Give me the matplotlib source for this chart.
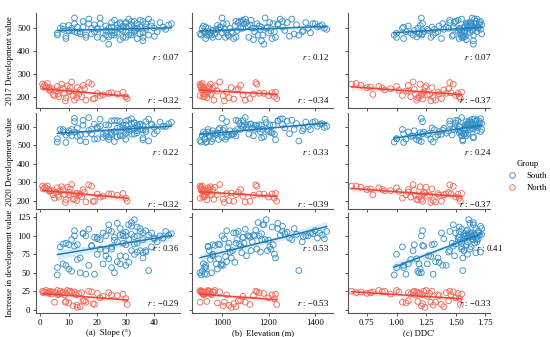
import numpy as np
import matplotlib
matplotlib.use('Agg')
import matplotlib.pyplot as plt
from matplotlib.lines import Line2D

plt.rcParams['font.family'] = ['Liberation Serif', 'DejaVu Serif']
plt.rcParams['mathtext.fontset'] = 'custom'
plt.rcParams['mathtext.it'] = 'Liberation Serif:italic'
plt.rcParams['mathtext.rm'] = 'Liberation Serif'

# ---- South group (one entry per unit) ----
s_slope = [6, 6, 7, 8, 9, 10, 10, 11, 12, 12, 13, 13, 14, 15, 16, 17, 18, 18, 19, 20,
           20, 21, 22, 22, 23, 23, 24, 24, 25, 25, 25, 26, 26, 27, 27, 28, 28, 29, 29, 30,
           30, 30, 31, 31, 32, 32, 33, 33, 33, 34, 34, 35, 35, 36, 36, 37, 37, 38, 38, 39,
           40, 40, 42, 43, 44, 45, 46, 9, 11, 14, 16, 19, 21, 24, 26, 28, 29, 31, 32, 33,
           34, 35, 36, 37, 30, 27, 23, 17, 15, 12, 8, 41, 39, 28, 25, 32, 20, 36, 34, 30]
s_elev = [910, 925, 940, 920, 930, 960, 980, 915, 1000, 1020, 950, 990, 1040, 1060, 935, 1100, 1080, 970, 1120, 1010,
          960, 1150, 1050, 1000, 1160, 945, 1180, 985, 1070, 1210, 930, 1090, 955, 1130, 1020, 1240, 975, 1110, 1060, 1280,
          1140, 995, 1300, 1175, 1045, 1320, 1190, 1075, 1350, 1215, 1095, 1260, 1125, 1380, 1230, 1400, 1165, 1330, 1250, 1420,
          1440, 1290, 1360, 1410, 1450, 1430, 1390, 1030, 1065, 905, 1115, 925, 1185, 1145, 1200, 1105, 1270, 1055, 1155, 1225,
          1035, 1310, 1085, 1195, 1015, 1240, 960, 1005, 1170, 940, 985, 1345, 1205, 1135, 1025, 1260, 1090, 1170, 1370, 1220]
s_ddc = [0.98, 1.00, 1.05, 1.10, 1.06, 1.15, 1.20, 1.18, 1.21, 1.22, 1.12, 1.30, 1.35, 1.50, 1.31, 1.55, 1.48, 1.22, 1.60, 1.40,
         1.00, 1.62, 1.38, 1.19, 1.58, 1.14, 1.65, 1.17, 1.45, 1.55, 1.06, 1.52, 1.21, 1.60, 1.33, 1.67, 1.26, 1.63, 1.55, 1.70,
         1.58, 1.42, 1.68, 1.48, 1.57, 1.72, 1.61, 1.50, 1.64, 1.53, 1.66, 1.69, 1.45, 1.62, 1.56, 1.59, 1.71, 1.56, 1.66, 1.64,
         1.69, 1.58, 1.61, 1.67, 1.53, 1.70, 1.63, 1.47, 1.52, 1.19, 1.57, 1.08, 1.64, 1.60, 1.54, 1.49, 1.58, 1.36, 1.65, 1.60,
         1.44, 1.72, 1.67, 1.57, 1.29, 1.62, 1.27, 1.39, 1.61, 1.23, 1.32, 1.68, 1.63, 1.59, 1.55, 1.71, 1.53, 1.65, 1.66, 1.59]
s_v2017 = [470, 478, 500, 510, 455, 490, 512, 500, 545, 520, 480, 505, 485, 530, 470, 540, 500, 475, 515, 495,
           460, 520, 455, 480, 510, 470, 430, 462, 525, 488, 505, 535, 470, 500, 480, 520, 495, 510, 460, 525,
           485, 505, 540, 470, 480, 515, 500, 530, 490, 455, 520, 505, 535, 480, 460, 520, 495, 470, 540, 510,
           500, 465, 525, 505, 495, 515, 520, 465, 490, 475, 460, 485, 545, 500, 480, 525, 490, 510, 470, 485,
           500, 475, 530, 505, 460, 515, 490, 520, 505, 485, 495, 485, 525, 450, 470, 530, 500, 445, 500, 520]
s_v2020 = [517, 535, 585, 572, 515, 578, 567, 552, 645, 627, 548, 593, 555, 634, 518, 649, 586, 562, 613, 591,
           535, 602, 559, 542, 610, 550, 545, 531, 631, 570, 562, 633, 520, 592, 545, 630, 557, 610, 550, 630,
           585, 565, 635, 585, 560, 617, 622, 619, 589, 567, 610, 611, 615, 584, 530, 627, 573, 523, 641, 614,
           596, 562, 625, 602, 601, 616, 623, 555, 585, 525, 560, 533, 640, 608, 574, 598, 593, 574, 588, 560,
           578, 585, 607, 585, 532, 632, 563, 580, 608, 571, 584, 577, 610, 551, 555, 643, 598, 540, 600, 608]
s_inc = [47, 57, 85, 62, 60, 88, 55, 52, 100, 107, 68, 88, 70, 104, 48, 109, 86, 87, 98, 96,
         75, 82, 104, 62, 100, 80, 115, 69, 106, 82, 57, 98, 50, 92, 65, 110, 62, 100, 90, 105,
         100, 60, 95, 115, 80, 102, 122, 89, 99, 112, 90, 106, 80, 104, 70, 107, 78, 53, 101, 104,
         96, 97, 100, 97, 106, 101, 103, 90, 95, 50, 100, 48, 95, 108, 94, 73, 103, 64, 118, 75,
         78, 110, 77, 80, 72, 117, 73, 60, 103, 86, 89, 92, 85, 101, 85, 113, 98, 95, 100, 88]

# ---- North group ----
n_slope = [0.8, 1.5, 2.0, 2.5, 3.0, 3.5, 4.0, 4.5, 5.0, 5.5, 6.0, 6.5, 7.0, 7.5, 8.0, 8.5, 9.0, 9.5, 10.0, 10.5,
           11.0, 11.5, 12.0, 12.5, 13.0, 13.5, 14.0, 14.5, 15.0, 16.0, 17.0, 18.0, 18.5, 19.0, 20.0, 21.0, 22.0, 24.0, 25.0, 27.0,
           29.0, 30.0, 30.5, 1.0, 3.2, 6.2, 8.8, 10.2, 12.8, 15.5]
n_elev = [905, 910, 908, 915, 920, 912, 925, 930, 906, 935, 940, 918, 945, 950, 960, 955, 935, 970, 980, 945,
          990, 1005, 965, 1020, 1040, 950, 1060, 925, 1080, 1100, 1145, 1150, 1050, 1120, 1180, 1200, 1090, 1160, 1215, 1135,
          1230, 1225, 1235, 912, 918, 922, 1010, 940, 1030, 1070]
n_ddc = [0.62, 0.70, 0.85, 0.66, 0.75, 0.90, 0.95, 0.80, 1.05, 1.10, 1.00, 1.12, 1.15, 1.20, 0.88, 1.22, 1.18, 1.25, 1.08, 1.30,
         1.14, 1.21, 1.17, 1.35, 1.24, 1.28, 1.40, 1.19, 1.10, 1.33, 1.45, 1.48, 1.22, 1.38, 1.52, 1.50, 1.26, 1.42, 1.46, 1.36,
         1.55, 1.53, 1.54, 0.78, 1.02, 1.16, 1.29, 1.23, 1.31, 1.44]
n_v2017 = [255, 250, 245, 258, 240, 230, 235, 210, 205, 225, 245, 200, 232, 255, 238, 215, 195, 248, 225, 240,
           265, 205, 185, 220, 240, 210, 230, 200, 250, 185, 262, 255, 190, 192, 215, 205, 208, 215, 218, 212,
           220, 200, 192, 242, 228, 212, 182, 222, 196, 235]
n_v2020 = [280, 274, 271, 281, 262, 255, 256, 234, 215, 248, 271, 221, 257, 277, 262, 235, 206, 274, 234, 265,
           289, 210, 209, 240, 243, 232, 234, 223, 262, 195, 287, 279, 198, 199, 237, 221, 226, 238, 238, 231,
           241, 215, 199, 265, 252, 232, 192, 247, 202, 247]
n_inc = [25, 24, 26, 23, 22, 25, 21, 24, 10, 23, 26, 21, 25, 22, 24, 20, 11, 26, 9, 25,
         24, 5, 24, 20, 3, 22, 4, 23, 12, 10, 25, 24, 8, 7, 22, 16, 18, 23, 20, 19,
         21, 15, 7, 23, 24, 20, 10, 25, 6, 12]

row_labels = ['2017 Development value', '2020 Development value', 'Increase in development value']
col_labels = ['(a)  Slope (°)', '(b)  Elevation (m)', "(c) DDC'"]
r_south = [['0.07', '0.12', '0.07'], ['0.22', '0.33', '0.24'], ['0.36', '0.53', '0.41']]
r_north = [['−0.32', '−0.34', '−0.37'], ['−0.32', '−0.39', '−0.37'], ['−0.29', '−0.53', '−0.33']]

south_x = [s_slope, s_elev, s_ddc]
north_x = [n_slope, n_elev, n_ddc]
south_y = [s_v2017, s_v2020, s_inc]
north_y = [n_v2017, n_v2020, n_inc]

blue_pt, blue_ln = '#3C93C9', '#1F7BB6'
red_pt, red_ln = '#F26B5B', '#F0413A'
spine_c = '#555555'

W, H = 550, 337
cols_px = [(36, 180), (192, 333), (348, 490)]
rows_px = [(12.7, 107.7), (113.3, 209), (213, 313.3)]
xlims = [(-1.5, 49), (871, 1477), (0.59, 1.79)]
xticks = [[0, 10, 20, 30, 40], [1000, 1200, 1400], [0.75, 1.00, 1.25, 1.50, 1.75]]
ylims = [(152, 568), (157, 672), (-5, 131)]
yticks = [[200, 300, 400, 500], [200, 300, 400, 500, 600], [0, 25, 50, 75, 100, 125]]
# r label positions (axes fraction)
r_pos_y = [(0.53, 0.08), (0.60, 0.05), (0.65, 0.10)]
r_pos_x = [[0.995, 0.975, 1.01], [0.995, 0.975, 1.01], [0.995, 0.975, 1.09]]


def regline(ax, x, y, c):
    x = np.asarray(x, float)
    y = np.asarray(y, float)
    b, a = np.polyfit(x, y, 1)
    xs = np.linspace(x.min(), x.max(), 100)
    ys = a + b * xs
    n = len(x)
    resid = y - (a + b * x)
    s = np.sqrt(np.sum(resid ** 2) / (n - 2))
    sxx = np.sum((x - x.mean()) ** 2)
    se = s * np.sqrt(1.0 / n + (xs - x.mean()) ** 2 / sxx)
    ax.fill_between(xs, ys - 1.98 * se, ys + 1.98 * se, color=c, alpha=0.15, lw=0)
    ax.plot(xs, ys, color=c, lw=1.1)


fig = plt.figure(figsize=(5.5, 3.37), dpi=100)
for i in range(3):
    for j in range(3):
        y0, y1 = rows_px[i]
        x0, x1 = cols_px[j]
        ax = fig.add_axes([x0 / W, 1 - y1 / H, (x1 - x0) / W, (y1 - y0) / H])
        ax.scatter(south_x[j], south_y[i], s=17, facecolors='none', edgecolors=blue_pt, linewidths=0.65)
        ax.scatter(north_x[j], north_y[i], s=17, facecolors='none', edgecolors=red_pt, linewidths=0.65)
        regline(ax, south_x[j], south_y[i], blue_ln)
        regline(ax, north_x[j], north_y[i], red_ln)
        ax.set_xlim(*xlims[j])
        ax.set_ylim(*ylims[i])
        ax.set_xticks(xticks[j])
        ax.set_yticks(yticks[i])
        for sp in ['top', 'right']:
            ax.spines[sp].set_visible(False)
        for sp in ['left', 'bottom']:
            ax.spines[sp].set_color(spine_c)
            ax.spines[sp].set_linewidth(0.8)
        ax.tick_params(length=2.5, width=0.7, color=spine_c, labelsize=6.3, pad=1.5)
        if i < 2:
            ax.set_xticklabels([])
        else:
            ax.set_xlabel(col_labels[j], fontsize=6.2, labelpad=1.5)
            if j == 2:
                ax.set_xticklabels(['0.75', '1.00', '1.25', '1.50', '1.75'])
        if j > 0:
            ax.set_yticklabels([])
        else:
            ax.set_ylabel(row_labels[i], fontsize=6.3, labelpad=2)
        ys_, yn_ = r_pos_y[i]
        ax.text(r_pos_x[i][j], ys_, r'$r$ : ' + r_south[i][j], transform=ax.transAxes,
                ha='right', va='center', fontsize=6.3)
        ax.text(1.01 if j == 2 else r_pos_x[i][j], yn_, r'$r$ : ' + r_north[i][j],
                transform=ax.transAxes, ha='right', va='center', fontsize=6.3)

handles = [Line2D([], [], marker='o', ls='none', mfc='none', mec=blue_pt, ms=4, mew=0.65),
           Line2D([], [], marker='o', ls='none', mfc='none', mec=red_pt, ms=4, mew=0.65)]
leg = fig.legend(handles, ['South', 'North'], title='Group', loc='upper left',
                 bbox_to_anchor=(500 / W, 1 - 152 / H), frameon=False, fontsize=6.2,
                 title_fontsize=6.2, handletextpad=1.2, handlelength=1.0, labelspacing=0.5)

fig.savefig('out.png', dpi=100)
